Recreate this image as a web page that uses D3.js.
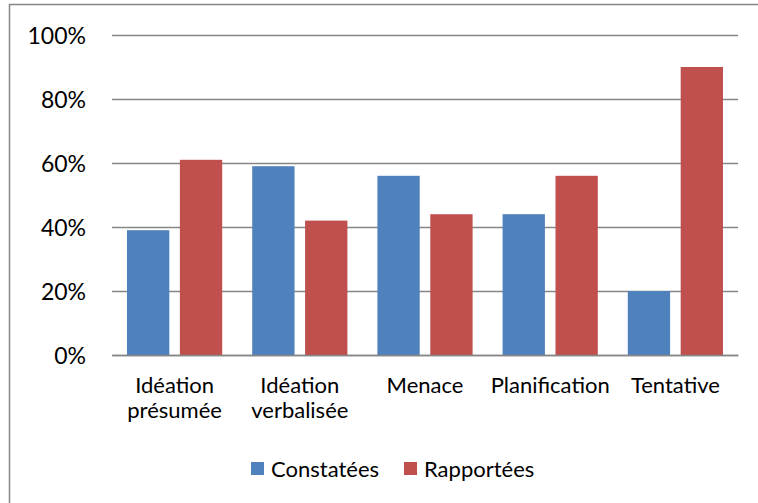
<!DOCTYPE html>
<html>
<head>
<meta charset="utf-8">
<script src="https://cdn.jsdelivr.net/npm/d3@7"></script>
<style>
  body { margin: 0; background: #fff; }
  text { font-family: Lato, "Open Sans", sans-serif; fill: #000; }
</style>
</head>
<body>
<div id="chart"></div>
<script>
var categories = [["Idéation", "présumée"], ["Idéation", "verbalisée"], ["Menace"], ["Planification"], ["Tentative"]];
var seriesNames = ["Constatées", "Rapportées"];
var constatees = [0.39, 0.59, 0.56, 0.44, 0.20];
var rapportees = [0.61, 0.42, 0.44, 0.56, 0.90];
var yTicks = [0, 0.2, 0.4, 0.6, 0.8, 1.0];

var color = ["#4f81bd", "#c0504d"];
var W = 758, H = 503;
var margin = { top: 35, left: 112 },
    width = 738 - margin.left,
    height = 355 - margin.top;

var svg = d3.select("#chart").append("svg")
    .attr("width", W)
    .attr("height", H);

// frame (only top and left edges fall inside the picture)
svg.append("path")
    .attr("d", "M9.5," + H + "V4.5H" + W)
    .attr("fill", "none")
    .attr("stroke", "#868686")
    .attr("stroke-width", 1.5);

var g = svg.append("g")
    .attr("transform", "translate(" + margin.left + "," + margin.top + ")");

var x0 = d3.scaleBand()
    .domain(d3.range(categories.length))
    .range([0, width]);
var x1 = d3.scaleBand()
    .domain([0, 1])
    .range([15, x0.bandwidth() - 15])
    .paddingInner(0.2);
var y = d3.scaleLinear()
    .domain([0, 1])
    .range([height, 0]);

// grid + y labels
var yAxis = d3.axisLeft(y).tickValues(yTicks).tickFormat(d3.format(".0%")).tickSize(-width);
g.append("g")
    .call(yAxis)
    .call(function (a) {
        a.select(".domain").remove();
        a.selectAll(".tick line").attr("stroke", "#868686").attr("stroke-width", 1.3);
        a.selectAll(".tick text").attr("x", -26).attr("dy", "0.36em")
            .style("font-size", "23px").style("font-family", "Lato, sans-serif").attr("fill", "#000");
    });

var data = categories.map(function (c, i) { return [constatees[i], rapportees[i]]; });

g.append("g").selectAll("g")
    .data(data)
    .enter().append("g")
    .attr("transform", function (d, i) { return "translate(" + x0(i) + ",0)"; })
    .selectAll("rect")
    .data(function (d) { return d; })
    .enter().append("rect")
    .attr("x", function (d, j) { return x1(j); })
    .attr("width", x1.bandwidth())
    .attr("y", function (d) { return y(d); })
    .attr("height", function (d) { return height - y(d); })
    .attr("fill", function (d, j) { return color[j]; });

// x axis line
var xAxis = d3.axisBottom(x0).tickSize(0).tickFormat("");
g.append("g")
    .attr("transform", "translate(0," + height + ")")
    .call(xAxis)
    .call(function (a) {
        a.select(".domain").attr("stroke", "#868686").attr("stroke-width", 1.5);
    });

// category labels
var lab = g.append("g").selectAll("text")
    .data(categories)
    .enter().append("text")
    .attr("x", function (d, i) { return x0(i) + x0.bandwidth() / 2; })
    .attr("y", height + 38)
    .attr("text-anchor", "middle")
    .style("font-size", "22px");
lab.selectAll("tspan")
    .data(function (d) { return d; })
    .enter().append("tspan")
    .attr("x", function () { return d3.select(this.parentNode).attr("x"); })
    .attr("dy", function (d, k) { return k === 0 ? 0 : 25; })
    .text(function (d) { return d; });

// legend
var legendX = [251, 404];
var leg = svg.append("g").selectAll("g")
    .data(seriesNames)
    .enter().append("g")
    .attr("transform", function (d, i) { return "translate(" + legendX[i] + ",462)"; });
leg.append("rect")
    .attr("width", 13).attr("height", 13)
    .attr("fill", function (d, i) { return color[i]; });
leg.append("text")
    .attr("x", 20).attr("y", 7).attr("dy", "0.36em")
    .style("font-size", "22px")
    .text(function (d) { return d; });
</script>
</body>
</html>
